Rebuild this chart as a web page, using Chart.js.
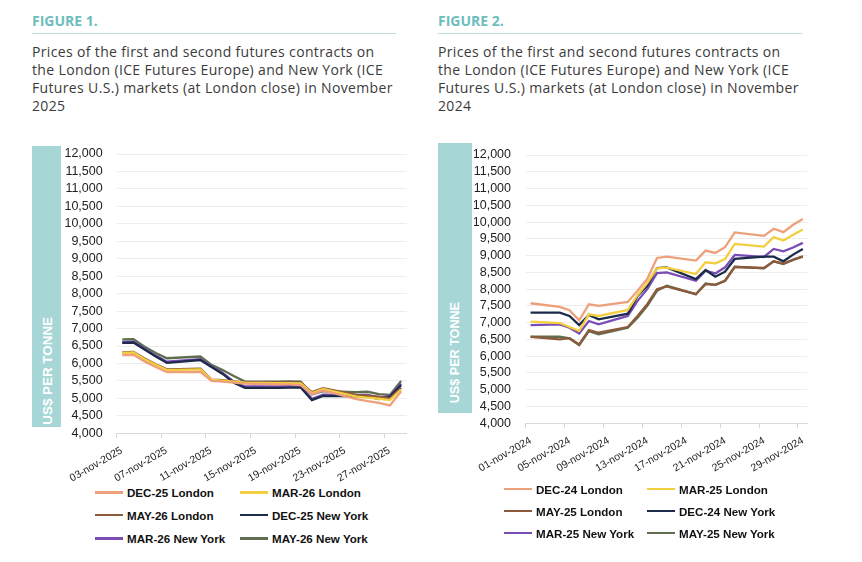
<!DOCTYPE html>
<html>
<head>
<meta charset="utf-8">
<script src="https://cdn.jsdelivr.net/npm/chart.js@4.4.1/dist/chart.umd.min.js"></script>
<style>
  html, body { margin:0; padding:0; background:#fff; }
  body { width:862px; height:562px; overflow:hidden; position:relative; font-family:"Open Sans", sans-serif; }
  .fig { position:absolute; color:#6dbdbd; font-weight:700; font-size:14px; line-height:18px; white-space:nowrap; }
  .rule { position:absolute; height:1px; background:#bfe0df; }
  .desc { position:absolute; color:#3b3b3b; font-size:14px; letter-spacing:0.35px; line-height:18.3px; white-space:nowrap; }
  .ybox { position:absolute; background:#a6d6d6; }
  .ybox span { position:absolute; left:50%; color:#fff; font-family:"Liberation Sans", Arial, sans-serif; font-weight:700;
               white-space:nowrap; writing-mode:vertical-rl; transform:translateX(-50%) rotate(180deg); }
  canvas { position:absolute; }
  .li { position:absolute; display:flex; align-items:center; white-space:nowrap;
        font-family:"Liberation Sans", Arial, sans-serif; font-weight:700; font-size:11.6px; color:#111; height:14px; }
  .li i { display:inline-block; width:28px; height:2.5px; margin-right:4px; }
</style>
</head>
<body>

<div class="fig" style="left:32px; top:11.5px;">FIGURE 1.</div>
<div class="rule" style="left:32px; top:33px; width:364px;"></div>
<div class="desc" style="left:32px; top:42.5px;">Prices of the first and second futures contracts on<br>the London (ICE Futures Europe) and New York (ICE<br>Futures U.S.) markets (at London close) in November<br>2025</div>

<div class="fig" style="left:438px; top:11.5px;">FIGURE 2.</div>
<div class="rule" style="left:438px; top:33px; width:364px;"></div>
<div class="desc" style="left:438px; top:42.5px;">Prices of the first and second futures contracts on<br>the London (ICE Futures Europe) and New York (ICE<br>Futures U.S.) markets (at London close) in November<br>2024</div>

<div class="ybox" style="left:32px; top:146px; width:29px; height:281px;"><span style="bottom:2px; font-size:13.4px;">US$ PER TONNE</span></div>
<div class="ybox" style="left:438px; top:143px; width:34px; height:270px;"><span style="bottom:10px; font-size:12.6px;">US$ PER TONNE</span></div>

<canvas id="c1" width="392" height="345" style="left:30px; top:140px; width:392px; height:345px;"></canvas>
<canvas id="c2" width="384" height="345" style="left:440px; top:140px; width:384px; height:345px;"></canvas>

<div id="leg1"></div>
<div id="leg2"></div>

<script>
// ---------------- Figure 1 data (November 2025) ----------------
const fig1Days = [3,4,5,6,7,10,11,12,13,14,17,18,19,20,21,24,25,26,27,28];
const fig1TickDays = [3,7,11,15,19,23,27];
const fig1TickLabels = ['03-nov-2025','07-nov-2025','11-nov-2025','15-nov-2025','19-nov-2025','23-nov-2025','27-nov-2025'];
const fig1Labels = ['DEC-25 London','MAR-26 London','MAY-26 London','DEC-25 New York','MAR-26 New York','MAY-26 New York'];
const fig1Dec25London  = [6240,6250,6060,5900,5750,5760,5500,5480,5450,5420,5400,5400,5380,5120,5230,4980,4920,4870,4800,5200];
const fig1Mar26London  = [6300,6320,6120,5960,5810,5830,5530,5510,5480,5450,5440,5440,5430,5150,5270,5050,5020,4990,4950,5250];
const fig1May26London  = [6320,6330,6140,5980,5830,5850,5540,5520,5490,5460,5460,5460,5450,5180,5290,5100,5080,5050,5000,5300];
const fig1Dec25NewYork = [6590,6600,6400,6200,6020,6100,5900,5700,5450,5300,5300,5310,5310,4950,5070,5060,5060,4980,5050,5380];
const fig1Mar26NewYork = [6615,6625,6420,6225,6050,6125,5920,5730,5480,5340,5340,5350,5350,4990,5110,5100,5100,5020,5070,5420];
const fig1May26NewYork = [6690,6700,6480,6300,6150,6200,5960,5810,5640,5480,5480,5490,5480,5110,5210,5180,5190,5120,5100,5500];

// ---------------- Figure 2 data (November 2024) ----------------
const fig2Days = [1,4,5,6,7,8,11,12,13,14,15,18,19,20,21,22,25,26,27,28,29];
const fig2TickDays = [1,5,9,13,17,21,25,29];
const fig2TickLabels = ['01-nov-2024','05-nov-2024','09-nov-2024','13-nov-2024','17-nov-2024','21-nov-2024','25-nov-2024','29-nov-2024'];
const fig2Labels = ['DEC-24 London','MAR-25 London','MAY-25 London','DEC-24 New York','MAR-25 New York','MAY-25 New York'];
const fig2Dec24London  = [7580,7470,7370,7070,7550,7500,7620,7950,8300,8930,8970,8850,9150,9080,9250,9690,9590,9800,9700,9920,10090];
const fig2Mar25London  = [7030,6990,6870,6760,7250,7200,7380,7820,8180,8620,8640,8450,8800,8770,8900,9350,9270,9550,9450,9620,9780];
const fig2May25London  = [6580,6500,6540,6350,6780,6700,6870,7200,7550,8000,8080,7850,8150,8130,8250,8660,8630,8830,8760,8870,8970];
const fig2Dec24NewYork = [7300,7300,7200,6930,7230,7100,7270,7800,8100,8630,8650,8300,8570,8370,8520,8900,8970,8970,8830,9030,9200];
const fig2Mar25NewYork = [6930,6950,6850,6680,7050,6950,7200,7650,8000,8480,8500,8250,8550,8470,8650,9020,8960,9200,9130,9240,9380];
const fig2May25NewYork = [6580,6580,6530,6330,6750,6650,6850,7150,7500,7950,8100,7850,8170,8130,8250,8670,8620,8830,8750,8880,8980];

const yMin = 4000, yMax = 12000, yStep = 500;
const seriesColors = ['#eea07a', '#f3cf3f', '#8c5a3c', '#1c2b4a', '#7a4cb5', '#5e6e4e'];

// Each trading day occupies a one-day slot; the date tick sits at the slot's left edge.
const slotHalf = 0.5;

function makeChart(canvasId, cfg) {
  const datasets = cfg.series.map((vals, k) => ({
    label: cfg.labels[k],
    data: cfg.days.map((d, i) => ({ x: d, y: vals[i] })),
    borderColor: seriesColors[k],
    backgroundColor: seriesColors[k],
    borderWidth: 2.3,
    pointRadius: 0,
    tension: 0,
    fill: false
  }));
  return new Chart(document.getElementById(canvasId), {
    type: 'line',
    data: { datasets },
    options: {
      responsive: false,
      animation: false,
      devicePixelRatio: 1,
      layout: { padding: cfg.padding },
      plugins: { legend: { display: false }, tooltip: { enabled: false } },
      scales: {
        x: {
          type: 'linear',
          min: cfg.tickDays[0] - slotHalf,
          max: cfg.days[cfg.days.length - 1] + slotHalf,
          afterBuildTicks: sc => { sc.ticks = cfg.tickDays.map(d => ({ value: d - slotHalf })); },
          afterFit: sc => { sc.height = cfg.xHeight; sc.paddingLeft = 0; sc.paddingRight = 0; },
          grid: { drawOnChartArea: false, drawTicks: true, tickLength: 5, color: '#d9d9d9' },
          border: { color: '#d9d9d9' },
          ticks: {
            autoSkip: false, minRotation: 30, maxRotation: 30, padding: 6, labelOffset: 5,
            font: { family: '"Liberation Sans", Arial, sans-serif', size: 10.5 }, color: '#222',
            callback: v => cfg.tickLabels[cfg.tickDays.indexOf(Math.round(v + slotHalf))]
          }
        },
        y: {
          min: yMin, max: yMax,
          afterFit: sc => { sc.width = cfg.yWidth; sc.paddingTop = 0; sc.paddingBottom = 0; },
          grid: { color: '#ededed', drawTicks: false },
          border: { display: false },
          ticks: {
            stepSize: yStep, autoSkip: false, padding: cfg.yPad,
            font: { family: '"Liberation Sans", Arial, sans-serif', size: 12.5 }, color: '#222',
            callback: v => v.toLocaleString('en-US')
          }
        }
      }
    }
  });
}

function buildLegend(chart, holderId, colX, rowY) {
  const holder = document.getElementById(holderId);
  chart.data.datasets.forEach((ds, i) => {
    const el = document.createElement('div');
    el.className = 'li';
    el.style.left = colX[i % 2] + 'px';
    el.style.top = (rowY[Math.floor(i / 2)] - 7) + 'px';
    const sw = document.createElement('i');
    sw.style.background = ds.borderColor;
    el.appendChild(sw);
    el.appendChild(document.createTextNode(ds.label));
    holder.appendChild(el);
  });
}

const chart1 = makeChart('c1', {
  days: fig1Days, tickDays: fig1TickDays, tickLabels: fig1TickLabels, labels: fig1Labels,
  series: [fig1Dec25London, fig1Mar26London, fig1May26London, fig1Dec25NewYork, fig1Mar26NewYork, fig1May26NewYork],
  padding: { left: 32, top: 14, right: 15.3, bottom: 0 },
  yWidth: 54.7, yPad: 14, xHeight: 51.7
});
const chart2 = makeChart('c2', {
  days: fig2Days, tickDays: fig2TickDays, tickLabels: fig2TickLabels, labels: fig2Labels,
  series: [fig2Dec24London, fig2Mar25London, fig2May25London, fig2Dec24NewYork, fig2Mar25NewYork, fig2May25NewYork],
  padding: { left: 34, top: 15, right: 16.3, bottom: 0 },
  yWidth: 51.7, yPad: 14.7, xHeight: 61.7
});

buildLegend(chart1, 'leg1', [95, 240], [492.7, 515, 538.3]);
buildLegend(chart2, 'leg2', [504, 647], [489, 511, 533]);
</script>
</body>
</html>
